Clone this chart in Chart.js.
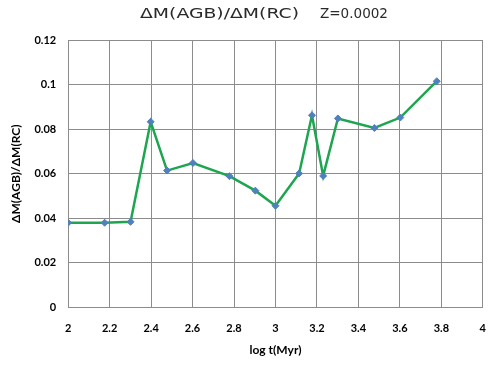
<!DOCTYPE html>
<html>
<head>
<meta charset="utf-8">
<script src="https://cdn.jsdelivr.net/npm/chart.js@4"></script>
<style>
  html,body{margin:0;padding:0;background:#fff;}
  #wrap{width:500px;height:367px;}
</style>
</head>
<body>
<div id="wrap"><canvas id="agbChart"></canvas></div>
<script>
// log t (Myr) and dM(AGB)/dM(RC)
const logT=[2.0,2.176,2.301,2.398,2.477,2.602,2.778,2.903,3.0,3.114,3.176,3.23,3.301,3.477,3.602,3.778];
const ratio=[0.038,0.038,0.0384,0.0833,0.0614,0.0648,0.0589,0.0524,0.0456,0.0601,0.0862,0.059,0.0848,0.0805,0.0852,0.1015];
const titleMain='ΔM(AGB)/ΔM(RC)';
const titleZ='Z=0.0002';

const fmt=v=>String(+v.toFixed(2));
const tickFont={family:'Lato',weight:'bold',size:11};
const labelFont={family:'Lato',weight:'bold',size:12};

// title: wide thin lettering, a little left of the plot centre
function wideText(c,txt,x,y,w){
  const m=c.measureText(txt).width;
  c.save();
  c.translate(x,y);
  c.scale(w/m,1);
  c.fillText(txt,0,0);
  c.restore();
}
const titlePlugin={
  id:'topTitle',
  afterDraw(chart){
    const c=chart.ctx,a=chart.chartArea;
    const mid=(a.left+a.right)/2-11.5;
    c.save();
    c.fillStyle='#2a2a2a';
    c.textBaseline='middle';
    c.textAlign='left';
    c.font='14px "DejaVu Sans"';
    wideText(c,titleMain,mid-124,14.5,159);
    wideText(c,titleZ,mid+56,14.5,68);
    c.restore();
  }
};

const ctx=document.getElementById('agbChart').getContext('2d');
new Chart(ctx,{
  type:'line',
  data:{
    datasets:[{
      data:logT.map((x,i)=>({x,y:ratio[i]})),
      borderColor:'#1ea54f',
      borderWidth:2.5,
      pointStyle:'rectRot',
      pointRadius:3.5,
      pointBackgroundColor:'#4f81bd',
      pointBorderColor:'#4f81bd',
      pointBorderWidth:1,
      tension:0,fill:false
    }]
  },
  options:{
    responsive:true,maintainAspectRatio:false,animation:false,
    layout:{padding:{left:9,right:16,top:40,bottom:10}},
    plugins:{legend:{display:false},tooltip:{enabled:false},title:{display:false}},
    scales:{
      x:{
        type:'linear',min:2,max:4,
        ticks:{stepSize:0.2,callback:fmt,color:'#000',font:tickFont,padding:14,maxRotation:0},
        grid:{color:'#8c8c8c',lineWidth:1,drawTicks:false},
        border:{color:'#8c8c8c'},
        title:{display:true,text:'log t(Myr)',color:'#000',font:labelFont,padding:{top:-6,bottom:0}}
      },
      y:{
        min:0,max:0.12,
        ticks:{stepSize:0.02,callback:fmt,color:'#000',font:tickFont,padding:12},
        grid:{color:'#8c8c8c',lineWidth:1,drawTicks:false},
        border:{color:'#8c8c8c'},
        title:{display:true,text:'ΔM(AGB)/ΔM(RC)',color:'#000',font:labelFont,padding:{top:0,bottom:-1}}
      }
    }
  },
  plugins:[titlePlugin]
});
</script>
</body>
</html>
